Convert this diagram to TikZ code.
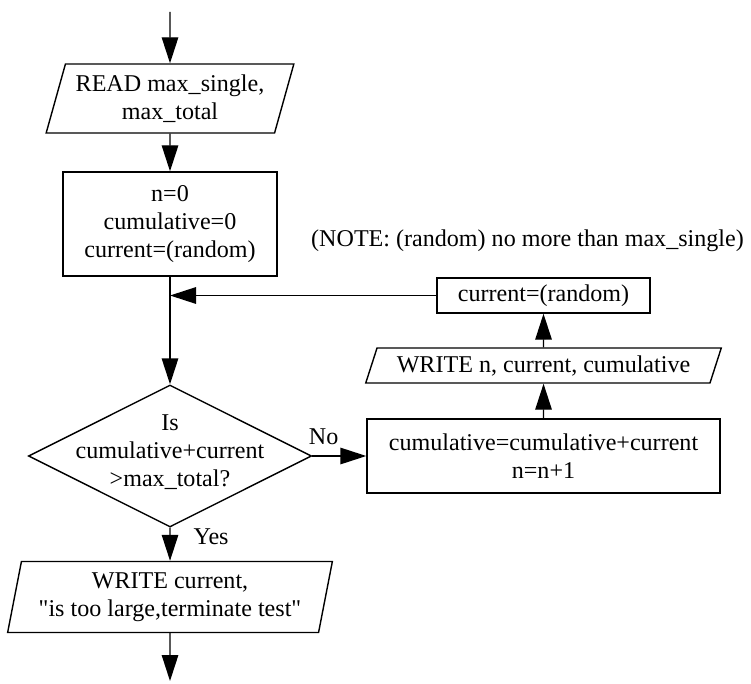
\documentclass[tikz,border=0pt]{standalone}
\usepackage{fontspec}
\setmainfont{Liberation Serif}
\usepackage{tikz}
\usetikzlibrary{positioning,arrows.meta,shapes.geometric}

\begin{document}
\begin{tikzpicture}[>={Triangle[length=0.52cm,width=0.33cm]},
  line width=0.8pt,
  every node/.style={font=\fontsize{13.7}{15.9}\selectfont,align=center},
  proc/.style={rectangle,draw,inner sep=0pt},
  io/.style={trapezium,trapezium stretches=true,draw,inner sep=0pt},
  decision/.style={diamond,draw,inner sep=0pt}]
  \useasboundingbox (0,0) rectangle (15.02,-13.66);

  % main column
  \coordinate (in) at (3.4,-0.24);
  \node[io,trapezium left angle=70,trapezium right angle=110,
    minimum width=4.96cm,minimum height=1.38cm] (read) at (3.4,-1.97)
    {READ max\_single,\\max\_total};
  \node[proc,minimum width=4.28cm,minimum height=2.08cm] (init) at (3.4,-4.48)
    {n=0\\cumulative=0\\current=(random)};
  \node[decision,minimum width=5.66cm,minimum height=2.84cm,
    label={[align=center,yshift=0.08cm]center:Is\\cumulative+current\\>max\_total?}]
    (test) at (3.4,-9.12) {};
  \node[io,trapezium left angle=76,trapezium right angle=104,
    minimum width=6.5cm,minimum height=1.42cm] (stop) at (3.4,-11.94)
    {WRITE current,\\\textquotedbl is too large,terminate test\textquotedbl};
  \coordinate (out) at (3.4,-13.62);

  % loop column
  \node[proc,minimum width=7.06cm,minimum height=1.48cm] (accum) at (10.87,-9.12)
    {cumulative=cumulative+current\\n=n+1};
  \node[io,trapezium left angle=64,trapezium right angle=116,
    minimum width=7.12cm,minimum height=0.7cm] (show) at (10.87,-7.31)
    {WRITE n, current, cumulative};
  \node[proc,minimum width=4.26cm,minimum height=0.7cm] (redraw) at (10.87,-5.91)
    {current=(random)};
  \node (note) at (10.55,-4.82) {(NOTE: (random) no more than max\_single)};
  \coordinate (merge) at (init |- redraw);

  \draw[->] (in) -- (read);
  \draw[->] (read) -- (init);
  \draw (init) -- (merge);
  \draw[->] (merge) -- (test);
  \draw[->] (test) -- node[pos=0.21,above=0.1cm] {No} (accum);
  \draw[->] (accum) -- (show);
  \draw[->] (show) -- (redraw);
  \draw[->] (redraw) -- (merge);
  \draw[->] (test) -- node[pos=0.28,right=0.34cm] {Yes} (stop);
  \draw[->] (stop) -- (out);
\end{tikzpicture}
\end{document}
